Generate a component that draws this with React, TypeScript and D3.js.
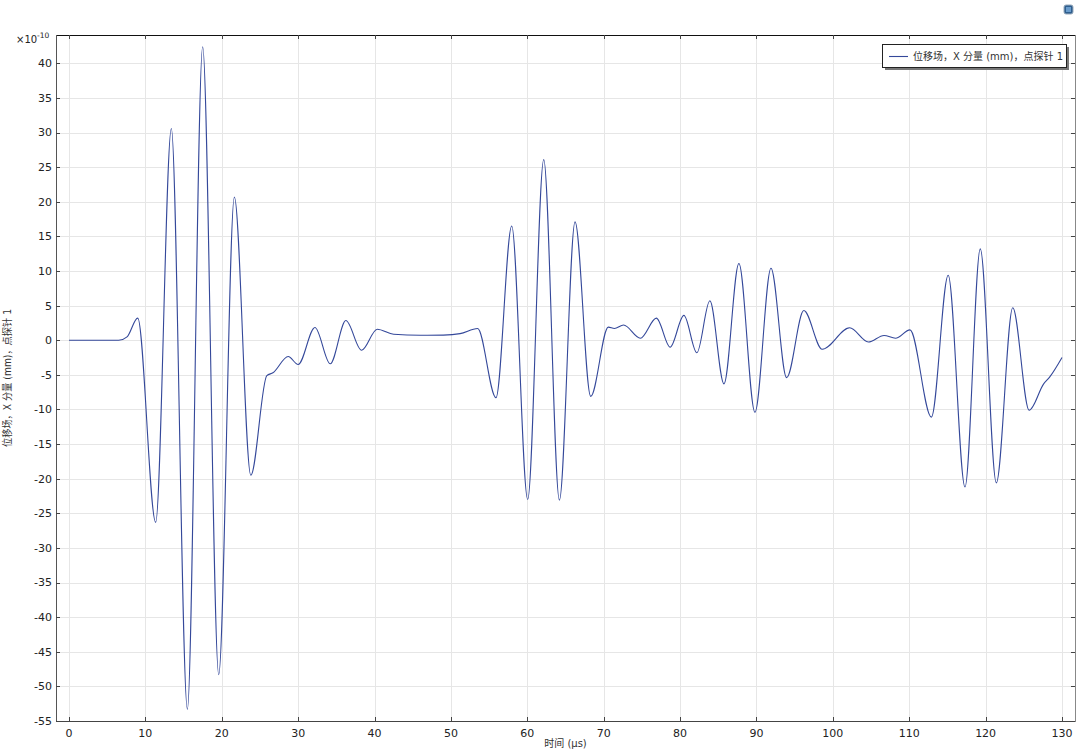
import * as d3 from 'd3'

// time (µs) and x-displacement (×1e-10 mm)
const timeUs = [
  0, 6.5, 7.6, 9.0, 11.35, 13.4, 15.5, 17.5, 19.6, 21.65, 23.8, 25.9, 26.7, 28.7, 30.0,
  32.2, 34.2, 36.25, 38.3, 40.35, 42.5, 46, 49, 51.2, 53.5, 55.9, 57.96, 60.05, 62.15,
  64.2, 66.25, 68.3, 70.6, 71.4, 72.6, 74.8, 76.9, 78.7, 80.5, 82.2, 83.9, 85.75, 87.7,
  89.8, 91.9, 93.95, 96.2, 98.6, 102.2, 104.65, 106.7, 108.2, 110.1, 112.9, 115.1,
  117.3, 119.3, 121.4, 123.55, 125.7, 127.6, 128.4, 130.0,
]
const dispX = [
  0, 0, 0.5, 3.2, -26.3, 30.6, -53.3, 42.4, -48.3, 20.7, -19.5, -5.1, -4.7, -2.35, -3.5,
  1.85, -3.4, 2.85, -1.45, 1.6, 0.87, 0.72, 0.75, 0.96, 1.7, -8.3, 16.5, -23.0, 26.1,
  -23.1, 17.1, -8.1, 1.9, 1.7, 2.2, 0.3, 3.2, -1.0, 3.6, -1.8, 5.7, -6.3, 11.1,
  -10.4, 10.4, -5.4, 4.3, -1.3, 1.8, -0.24, 0.7, 0.3, 1.5, -11.1, 9.4,
  -21.2, 13.2, -20.6, 4.7, -10.1, -6.3, -5.3, -2.5,
]
const xTicks = [0, 10, 20, 30, 40, 50, 60, 70, 80, 90, 100, 110, 120, 130]
const yTicks = [-55, -50, -45, -40, -35, -30, -25, -20, -15, -10, -5, 0, 5, 10, 15, 20, 25, 30, 35, 40]

const seriesLabel = '位移场，X 分量 (mm)，点探针 1'
const FONT = 'DejaVu Sans, "Noto Sans CJK SC", sans-serif'

export default function App() {
  const width = 1080
  const height = 750
  const margin = { top: 35, right: 5, bottom: 29, left: 56 }
  const x0 = margin.left
  const x1 = width - margin.right
  const y0 = margin.top
  const y1 = height - margin.bottom

  const x = d3.scaleLinear().domain([-1.7, 131.7]).range([x0, x1])
  const y = d3.scaleLinear().domain([-55, 44.1]).range([y1, y0])

  const pts: [number, number][] = timeUs.map((t, i) => [t, dispX[i]])
  const path = d3.line<[number, number]>()
    .x(d => x(d[0]))
    .y(d => y(d[1]))
    .curve(d3.curveMonotoneX)(pts) || ''

  const tickLen = 4

  return (
    <svg width={width} height={height} style={{ position: 'absolute', left: 0, top: 0, background: '#fff' }}
      fontFamily={FONT}>
      {/* little window icon, top right */}
      <rect x={1064} y={5} width={9} height={9} rx={2} fill="#2f5f8f" stroke="#9ab" strokeWidth={1} />
      <rect x={1066} y={7} width={5} height={5} fill="#6a9ccc" />

      {/* grid */}
      <g stroke="#e6e6e6" strokeWidth={1}>
        {xTicks.map(t => (
          <line key={'gx' + t} x1={Math.round(x(t)) + 0.5} x2={Math.round(x(t)) + 0.5} y1={y0} y2={y1} />
        ))}
        {yTicks.map(t => (
          <line key={'gy' + t} x1={x0} x2={x1} y1={Math.round(y(t)) + 0.5} y2={Math.round(y(t)) + 0.5} />
        ))}
      </g>

      {/* data */}
      <path d={path} fill="none" stroke="#34489a" strokeWidth={1.1} />

      {/* frame */}
      <line x1={x0} x2={x1} y1={y0 + 0.5} y2={y0 + 0.5} stroke="#111" />
      <line x1={x0} x2={x1} y1={y1 + 0.5} y2={y1 + 0.5} stroke="#444" />
      <line x1={x0 + 0.5} x2={x0 + 0.5} y1={y0} y2={y1 + 1} stroke="#555" />
      <line x1={x1 + 0.5} x2={x1 + 0.5} y1={y0} y2={y1 + 1} stroke="#888" />

      {/* ticks */}
      <g stroke="#444" strokeWidth={1}>
        {xTicks.map(t => {
          const px = Math.round(x(t)) + 0.5
          return (
            <g key={'tx' + t}>
              <line x1={px} x2={px} y1={y1} y2={y1 - tickLen} />
              <line x1={px} x2={px} y1={y0} y2={y0 + tickLen} />
            </g>
          )
        })}
        {yTicks.map(t => {
          const py = Math.round(y(t)) + 0.5
          return (
            <g key={'ty' + t}>
              <line x1={x0} x2={x0 + tickLen} y1={py} y2={py} />
              <line x1={x1} x2={x1 - tickLen} y1={py} y2={py} />
            </g>
          )
        })}
      </g>

      {/* tick labels */}
      <g fontSize={11} fill="#222">
        {xTicks.map(t => (
          <text key={'lx' + t} x={x(t)} y={y1 + 16} textAnchor="middle">{t}</text>
        ))}
        {yTicks.map(t => (
          <text key={'ly' + t} x={x0 - 4} y={y(t)} dy="0.35em" textAnchor="end">{t}</text>
        ))}
      </g>

      {/* exponent */}
      <text x={16} y={43} fontSize={10} fill="#222">
        ×10<tspan dy={-5} fontSize={7.5}>-10</tspan>
      </text>

      {/* axis titles */}
      <text x={(x0 + x1) / 2} y={747} textAnchor="middle" fontSize={10} fill="#333">时间 (μs)</text>
      <text transform={`translate(11,${(y0 + y1) / 2}) rotate(-90)`} textAnchor="middle" fontSize={10} fill="#333"
        textLength={138} lengthAdjust="spacingAndGlyphs">
        {seriesLabel}
      </text>

      {/* legend */}
      <rect x={885} y={47} width={184} height={23} fill="#777" />
      <rect x={882.5} y={44.5} width={184} height={23} fill="#fff" stroke="#222" />
      <line x1={889} x2={908} y1={56.5} y2={56.5} stroke="#34489a" strokeWidth={1.1} />
      <text x={913} y={60} fontSize={10} fill="#333">{seriesLabel}</text>
    </svg>
  )
}
